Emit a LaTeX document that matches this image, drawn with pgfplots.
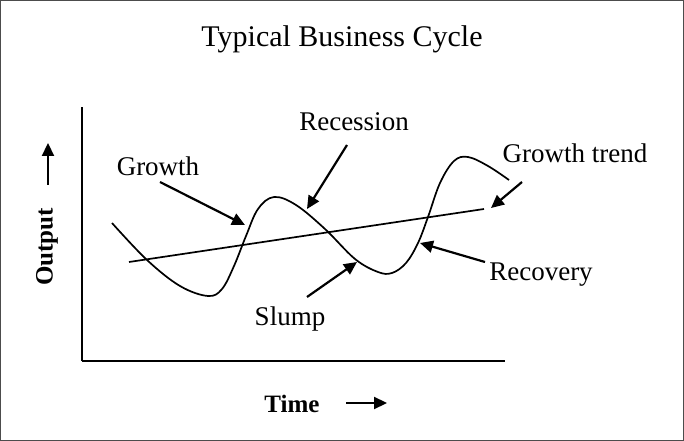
\documentclass[border=0pt]{standalone}
\usepackage{pgfplots}
\pgfplotsset{compat=1.18}
\usepackage{fontspec}
\setmainfont{Liberation Serif}
\usetikzlibrary{arrows.meta}
\tikzset{ann/.style={line width=2.2bp, -{Triangle[length=13bp,width=12bp]}},
  lab/.style={font=\fontsize{27bp}{32bp}\selectfont, inner sep=0pt, anchor=base}}
\begin{document}
\begin{tikzpicture}
\begin{axis}[
  scale only axis, width=423bp, height=254bp,
  xmin=82, xmax=505, ymin=80, ymax=334,
  axis x line=bottom, axis y line=left,
  axis line style={-, line width=1.6bp, black},
  ticks=none, clip=false,
]
% cycle curve
\addplot[black, line width=1.7bp, smooth, tension=0.6] coordinates {
(112,218) (147,181) (180,155) (208,145) (222,152) (234,175) (246,205) (258,232)
(274,244) (296,236) (325,212) (355,182) (378,169) (392,168) (406,178) (418,198)
(428,224) (440,258) (454,280) (468,284) (488,275) (509,261)};
% growth trend
\addplot[black, line width=1.7bp] coordinates {(129,179) (484,232)};
% annotation arrows
\draw[ann] (axis cs:160,259) -- (axis cs:245,216);
\draw[ann] (axis cs:347,296) -- (axis cs:307,232);
\draw[ann] (axis cs:307,144) -- (axis cs:357,179);
\draw[ann] (axis cs:522,259) -- (axis cs:491,233);
\draw[ann] (axis cs:485,179) -- (axis cs:420,198);
\draw[ann] (axis cs:48,256) -- (axis cs:48,298);
\draw[ann] (axis cs:346,38) -- (axis cs:387,38);
% texts
\node[lab, font=\fontsize{30bp}{34bp}\selectfont] at (axis cs:342,394) {Typical Business Cycle};
\node[lab] at (axis cs:158,265) {Growth};
\node[lab] at (axis cs:354,310) {Recession};
\node[lab] at (axis cs:575,278) {Growth trend};
\node[lab] at (axis cs:541,160) {Recovery};
\node[lab] at (axis cs:290,115) {Slump};
\node[anchor=center, inner sep=0pt, rotate=90, font=\fontsize{25bp}{28bp}\selectfont\bfseries] at (axis cs:47,194) {Output};
\node[lab, font=\fontsize{25bp}{28bp}\selectfont\bfseries] at (axis cs:292,29) {Time};
% frame
\draw[line width=1.5bp, black!70] (axis cs:0.75,0.75) rectangle (axis cs:683.25,440.25);
\end{axis}
\end{tikzpicture}
\end{document}
